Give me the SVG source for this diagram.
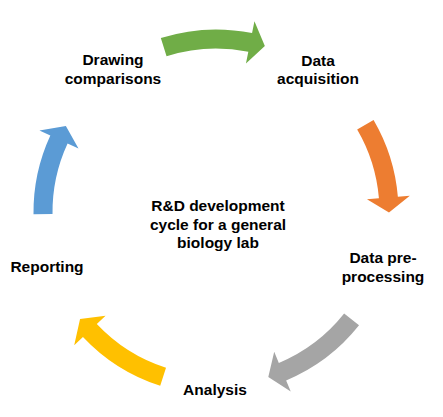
<svg xmlns="http://www.w3.org/2000/svg" xmlns:xlink="http://www.w3.org/1999/xlink" width="443" height="417" viewBox="0 0 443 417">
  <style>
    .lbl { font-family: "Liberation Sans", Arial, sans-serif; font-weight: bold; font-size: 15.5px; fill: #000; text-anchor: middle; }
  </style>
  <defs>
    <!-- curved block arrows centred on the origin; tail on the +x axis, sweeping clockwise -->
    <path id="arc34" d="M182.5,0 A182.5,182.5 0 0 1 159.62,88.48 L170.11,94.30 L143.42,96.74 L132.50,73.45 L143.00,79.27 A163.5,163.5 0 0 0 163.5,0 Z"/>
    <path id="arc30" d="M182.5,0 A182.5,182.5 0 0 1 164.72,78.57 L175.55,83.73 L149.06,87.80 L136.74,65.22 L147.57,70.39 A163.5,163.5 0 0 0 163.5,0 Z"/>
  </defs>
  <rect width="443" height="417" fill="#fff"/>

  <g id="connectors">
    <use xlink:href="#arc34" href="#arc34" transform="translate(216,212) rotate(-107.6)" fill="#70AD47"/>
    <use xlink:href="#arc30" href="#arc30" transform="translate(216,212) rotate(-30.3)" fill="#ED7D31"/>
    <use xlink:href="#arc34" href="#arc34" transform="translate(216,212) rotate(38.4)" fill="#A5A5A5"/>
    <use xlink:href="#arc34" href="#arc34" transform="translate(216,212) rotate(107.8)" fill="#FFC000"/>
    <use xlink:href="#arc30" href="#arc30" transform="translate(216,212) rotate(179.3)" fill="#5B9BD5"/>
  </g>

  <g id="center">
    <text class="lbl" x="218" y="211">R&amp;D development</text>
    <text class="lbl" x="218" y="230">cycle for a general</text>
    <text class="lbl" x="218" y="248">biology lab</text>
  </g>
  <g id="data-acquisition">
    <text class="lbl" x="318" y="66">Data</text>
    <text class="lbl" x="318" y="84">acquisition</text>
  </g>
  <g id="data-preprocessing">
    <text class="lbl" x="383" y="263">Data pre-</text>
    <text class="lbl" x="383" y="282">processing</text>
  </g>
  <g id="analysis">
    <text class="lbl" x="215" y="395">Analysis</text>
  </g>
  <g id="reporting">
    <text class="lbl" x="47" y="272">Reporting</text>
  </g>
  <g id="drawing-comparisons">
    <text class="lbl" x="113" y="65">Drawing</text>
    <text class="lbl" x="113" y="84">comparisons</text>
  </g>
</svg>
